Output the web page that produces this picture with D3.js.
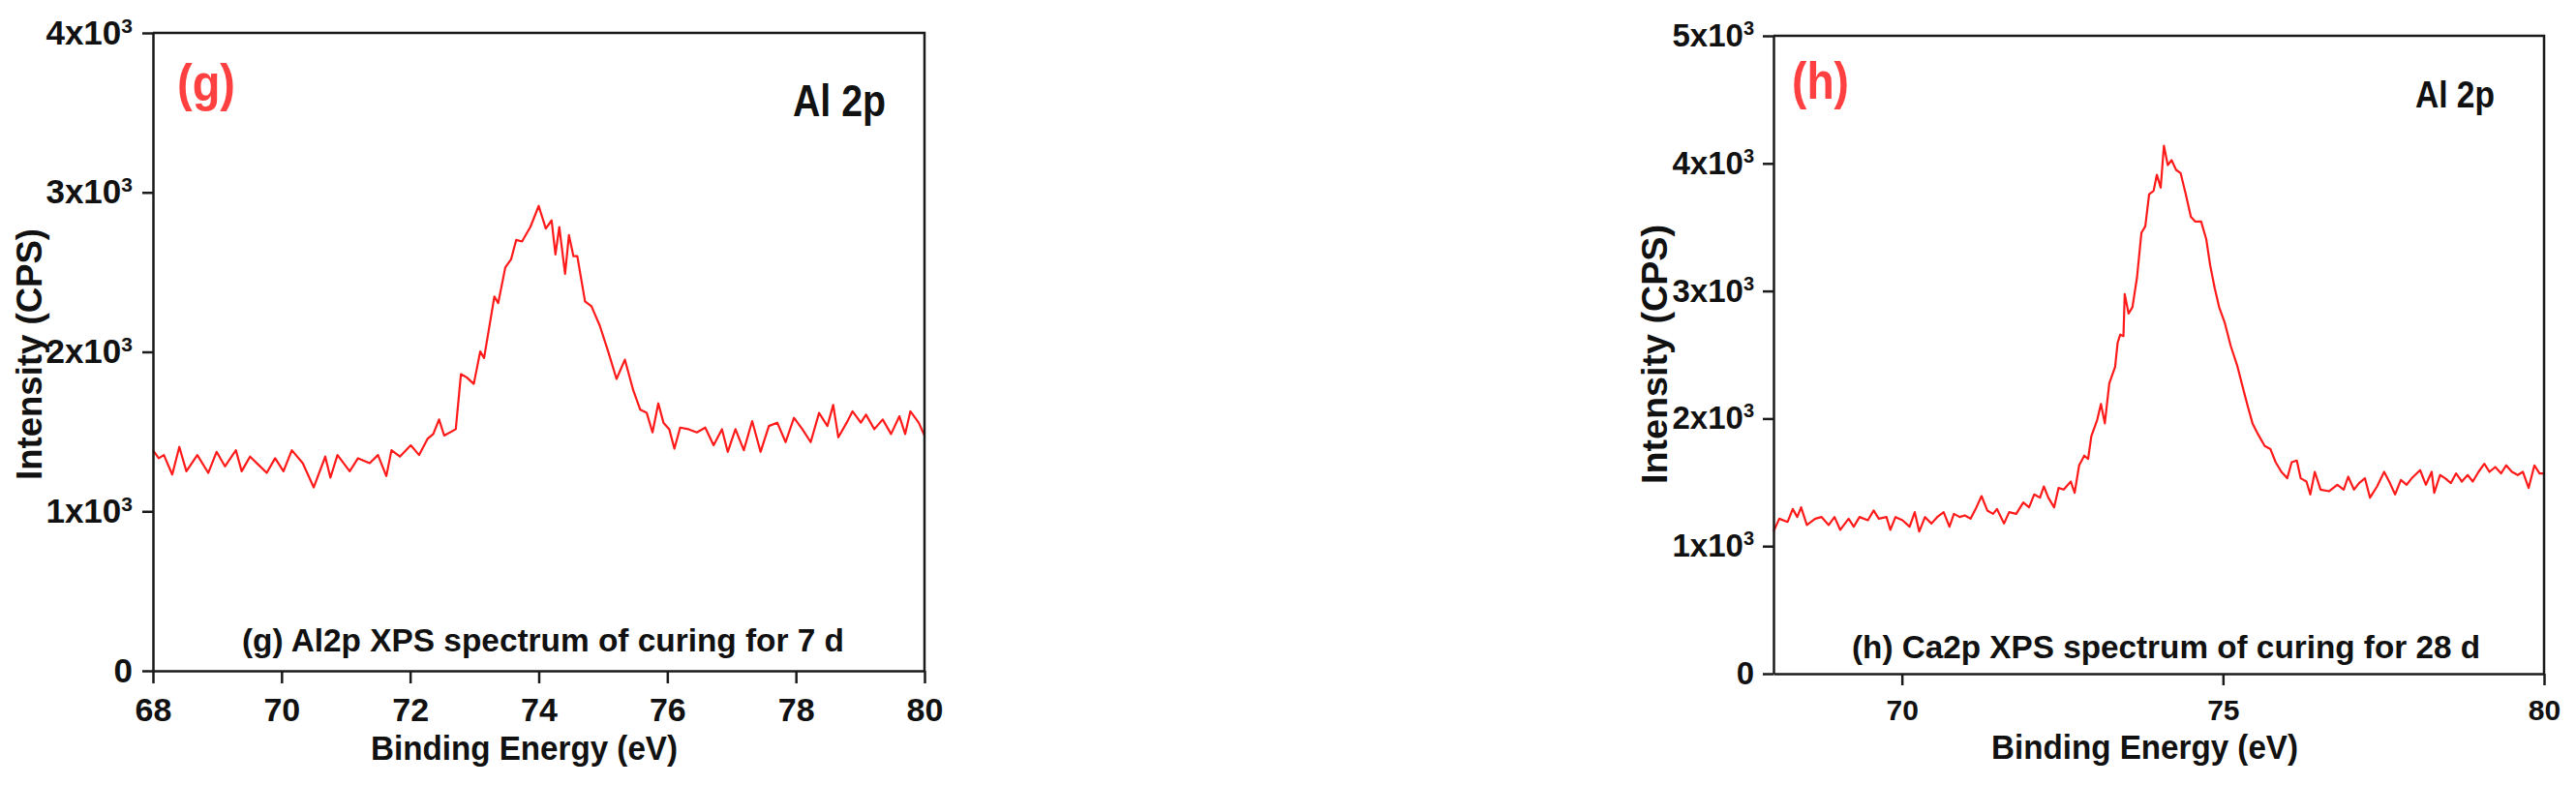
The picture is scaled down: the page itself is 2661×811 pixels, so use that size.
<!doctype html>
<html lang="en">
<head>
<meta charset="UTF-8" />
<title>Al 2p XPS spectra</title>
<script src="https://d3js.org/d3.v7.min.js"></script>
<style>
  body { margin: 0; background: #fff; }
  svg { display: block; font-family: "Liberation Sans", Arial, sans-serif; }
  .axis path, .axis line { stroke: #1a1a1a; stroke-width: 2.5; }
  .axis text { font-family: "Liberation Sans", Arial, sans-serif; font-weight: bold; fill: #111; }
  .lbl { font-weight: bold; fill: #111; }
</style>
</head>
<body>
<svg id="chart" width="2661" height="811"></svg>
<script>
// (g) Al2p, curing 7 d
const energyG = [
  68.00, 68.09, 68.17, 68.30, 68.41, 68.52, 68.69, 68.86, 68.99, 69.12,
  69.29, 69.38, 69.51, 69.64, 69.77, 69.90, 70.03, 70.16, 70.33, 70.50,
  70.68, 70.76, 70.87, 71.06, 71.19, 71.37, 71.50, 71.63, 71.71, 71.84,
  72.01, 72.14, 72.27, 72.36, 72.45, 72.53, 72.71, 72.79, 72.88, 72.99,
  73.09, 73.15, 73.31, 73.37, 73.48, 73.57, 73.65, 73.74, 73.87, 74.00,
  74.11, 74.20, 74.26, 74.32, 74.41, 74.47, 74.54, 74.60, 74.72, 74.82,
  74.95, 75.08, 75.21, 75.34, 75.47, 75.58, 75.68, 75.77, 75.86, 75.94,
  76.03, 76.11, 76.20, 76.33, 76.46, 76.59, 76.72, 76.85, 76.94, 77.06,
  77.19, 77.32, 77.45, 77.58, 77.71, 77.84, 77.97, 78.10, 78.23, 78.36,
  78.49, 78.58, 78.66, 78.79, 78.88, 79.01, 79.09, 79.22, 79.35, 79.48,
  79.61, 79.70, 79.78, 79.91, 80.00
];
const countsG = [
  1383, 1333, 1353, 1231, 1404, 1251, 1353, 1241, 1373, 1282,
  1383, 1251, 1343, 1292, 1241, 1333, 1251, 1383, 1302, 1150,
  1343, 1211, 1353, 1251, 1333, 1302, 1353, 1221, 1383, 1343,
  1414, 1353, 1454, 1485, 1576, 1475, 1515, 1860, 1840, 1799,
  2002, 1961, 2347, 2306, 2529, 2580, 2702, 2692, 2783, 2915,
  2773, 2824, 2611, 2783, 2489, 2732, 2600, 2600, 2316, 2286,
  2164, 2002, 1830, 1951, 1759, 1637, 1617, 1495, 1677, 1556,
  1515, 1393, 1525, 1515, 1495, 1525, 1414, 1515, 1373, 1515,
  1383, 1566, 1373, 1535, 1556, 1434, 1586, 1515, 1434, 1617,
  1535, 1667, 1464, 1556, 1627, 1556, 1606, 1515, 1576, 1485,
  1596, 1485, 1627, 1556, 1475
];

// (h) Ca2p, curing 28 d
const energyH = [
  68.00, 68.09, 68.22, 68.30, 68.37, 68.43, 68.52, 68.65, 68.75, 68.86,
  68.95, 69.04, 69.17, 69.25, 69.34, 69.47, 69.56, 69.64, 69.76, 69.82,
  69.90, 70.01, 70.12, 70.20, 70.27, 70.36, 70.46, 70.55, 70.65, 70.74,
  70.81, 70.90, 70.98, 71.07, 71.16, 71.24, 71.33, 71.42, 71.48, 71.59,
  71.67, 71.78, 71.89, 71.98, 72.06, 72.15, 72.21, 72.28, 72.37, 72.44,
  72.52, 72.63, 72.69, 72.76, 72.84, 72.90, 72.95, 73.04, 73.10, 73.16,
  73.23, 73.32, 73.36, 73.40, 73.45, 73.47, 73.53, 73.59, 73.66, 73.73,
  73.79, 73.85, 73.92, 73.97, 74.03, 74.08, 74.14, 74.20, 74.27, 74.34,
  74.42, 74.50, 74.57, 74.66, 74.74, 74.80, 74.87, 74.94, 75.03, 75.12,
  75.22, 75.31, 75.39, 75.46, 75.55, 75.65, 75.74, 75.82, 75.91, 76.00,
  76.07, 76.15, 76.21, 76.30, 76.36, 76.43, 76.52, 76.65, 76.78, 76.88,
  76.95, 77.04, 77.12, 77.21, 77.29, 77.40, 77.51, 77.60, 77.68, 77.77,
  77.86, 77.94, 78.07, 78.16, 78.25, 78.29, 78.38, 78.46, 78.55, 78.63,
  78.72, 78.81, 78.89, 78.98, 79.07, 79.15, 79.24, 79.33, 79.41, 79.50,
  79.59, 79.67, 79.76, 79.85, 79.93, 80.00
];
const countsH = [
  1114, 1215, 1190, 1291, 1228, 1304, 1165, 1215, 1228, 1165,
  1228, 1127, 1215, 1152, 1228, 1203, 1279, 1215, 1228, 1127,
  1228, 1203, 1152, 1266, 1114, 1228, 1177, 1228, 1266, 1152,
  1253, 1228, 1241, 1215, 1304, 1392, 1279, 1253, 1291, 1177,
  1266, 1253, 1342, 1304, 1405, 1380, 1468, 1380, 1304, 1456,
  1443, 1506, 1418, 1633, 1709, 1684, 1861, 1987, 2114, 1962,
  2278, 2405, 2595, 2658, 2646, 2975, 2823, 2873, 3101, 3456,
  3506, 3759, 3785, 3911, 3810, 4139, 3987, 4025, 3949, 3924,
  3759, 3582, 3544, 3544, 3405, 3203, 3025, 2873, 2747, 2570,
  2418, 2241, 2089, 1962, 1873, 1785, 1760, 1658, 1582, 1532,
  1658, 1671, 1532, 1506, 1405, 1582, 1443, 1430, 1481, 1443,
  1544, 1443, 1494, 1532, 1380, 1468, 1582, 1494, 1405, 1519,
  1481, 1532, 1595, 1481, 1582, 1418, 1557, 1532, 1494, 1570,
  1506, 1557, 1506, 1582, 1646, 1582, 1620, 1570, 1633, 1582,
  1557, 1582, 1456, 1633, 1570, 1570
];

const xTicksG = [68, 70, 72, 74, 76, 78, 80];
const yTicksG = [0, 1000, 2000, 3000, 4000];
const xTicksH = [70, 75, 80];
const yTicksH = [0, 1000, 2000, 3000, 4000, 5000];
const xDomain = [68, 80];

const svg = d3.select("#chart");

function label(g, text, x, y, size, len, color) {
  return g.append("text")
    .attr("class", "lbl")
    .attr("x", x)
    .attr("y", y)
    .attr("textLength", len)
    .attr("lengthAdjust", "spacingAndGlyphs")
    .style("font-size", size + "px")
    .style("fill", color || "#111")
    .text(text);
}

function drawPanel(p) {
  const x = d3.scaleLinear().domain(xDomain).range([p.left, p.right]);
  const y = d3.scaleLinear().domain([0, p.yMax]).range([p.bottom, p.top]);
  const g = svg.append("g");

  const pts = p.energy.map((e, i) => [e, p.counts[i]]);
  g.append("path")
    .datum(pts)
    .attr("fill", "none")
    .attr("stroke", "#ff1a1a")
    .attr("stroke-width", 2.2)
    .attr("stroke-linejoin", "round")
    .attr("d", d3.line().x((d) => x(d[0])).y((d) => y(d[1])));

  // top and right border of the box
  g.append("path")
    .attr("fill", "none")
    .attr("stroke", "#1a1a1a")
    .attr("stroke-width", 2.5)
    .attr("d", `M${x(xDomain[0])},${y(p.yMax)}H${x(xDomain[1])}V${y(0)}`);

  const xa = g.append("g")
    .attr("class", "axis")
    .attr("transform", `translate(0,${p.bottom})`)
    .call(d3.axisBottom(x).tickValues(p.xTicks).tickSize(p.xTickLen)
      .tickSizeOuter(0).tickPadding(p.xPad).tickFormat(d3.format("d")));
  xa.selectAll("text").style("font-size", p.xTickFont + "px");

  const ya = g.append("g")
    .attr("class", "axis")
    .attr("transform", `translate(${p.left},0)`)
    .call(d3.axisLeft(y).tickValues(p.yTicks).tickSize(11).tickSizeOuter(0)
      .tickPadding(p.yPad).tickFormat((d) => (d === 0 ? "0" : d / 1000 + "x10")));
  ya.selectAll("text")
    .style("font-size", p.tickFont + "px")
    .each(function (d) {
      if (d === 0) return;
      d3.select(this).append("tspan")
        .attr("dy", -12)
        .style("font-size", p.supFont + "px")
        .text("3");
    });

  label(g, p.tag, p.tagX, p.tagY, 53, p.tagLen, "#ff4040");
  label(g, p.element, p.elX, p.elY, p.elFont, p.elLen);
  label(g, p.caption, p.capX, p.capY, 33, p.capLen);
  label(g, "Binding Energy (eV)", p.xtX, p.xtY, 35, 317);

  g.append("text")
    .attr("class", "lbl")
    .attr("transform", `translate(${p.ytX},366) rotate(-90)`)
    .attr("text-anchor", "middle")
    .attr("textLength", p.ytLen)
    .attr("lengthAdjust", "spacingAndGlyphs")
    .style("font-size", p.ytFont + "px")
    .text("Intensity (CPS)");
}

drawPanel({
  energy: energyG, counts: countsG, xTicks: xTicksG, yTicks: yTicksG, yMax: 4000,
  left: 158, right: 955, top: 34, bottom: 693,
  xTickLen: 13, xPad: 15, yPad: 10, tickFont: 35, xTickFont: 34, supFont: 21,
  tag: "(g)", tagX: 183, tagY: 104, tagLen: 60,
  element: "Al 2p", elX: 819, elY: 120, elFont: 46, elLen: 96,
  caption: "(g) Al2p XPS spectrum of curing for 7 d", capX: 250, capY: 673, capLen: 622,
  xtX: 383, xtY: 785, ytX: 43, ytFont: 36, ytLen: 260
});

drawPanel({
  energy: energyH, counts: countsH, xTicks: xTicksH, yTicks: yTicksH, yMax: 5000,
  left: 1832, right: 2628, top: 37, bottom: 696,
  xTickLen: 12, xPad: 15, yPad: 9, tickFont: 33, xTickFont: 30, supFont: 20,
  tag: "(h)", tagX: 1851, tagY: 102, tagLen: 59,
  element: "Al 2p", elX: 2495, elY: 111, elFont: 39, elLen: 82,
  caption: "(h) Ca2p XPS spectrum of curing for 28 d", capX: 1913, capY: 680, capLen: 649,
  xtX: 2057, xtY: 784, ytX: 1722, ytFont: 37, ytLen: 268
});
</script>
</body>
</html>
